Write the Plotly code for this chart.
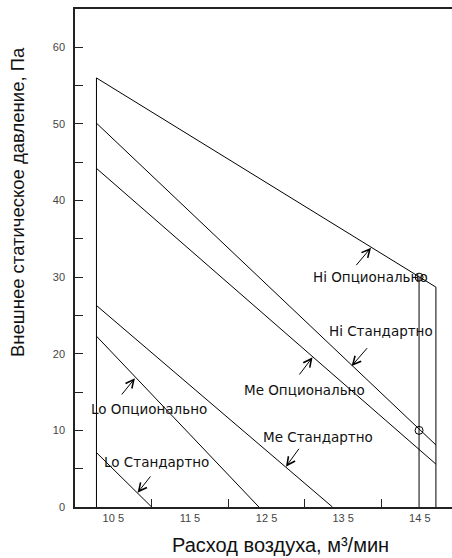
import plotly.graph_objects as go

# ---- data ----
hi_opt_x = [10.28, 14.71, 14.71]
hi_opt_y = [56.0, 28.7, 0.0]
hi_std_x = [10.28, 14.71]
hi_std_y = [50.1, 8.1]
me_opt_x = [10.28, 14.71]
me_opt_y = [44.2, 5.6]
me_std_x = [10.28, 13.36]
me_std_y = [26.3, 0.0]
lo_opt_x = [10.28, 12.40]
lo_opt_y = [22.3, 0.0]
lo_std_x = [10.28, 11.0]
lo_std_y = [7.1, 0.0]
left_edge_x = [10.28, 10.28]
left_edge_y = [0.0, 56.0]
rated_x = [14.49, 14.49]
rated_y = [0.0, 30.0]
points_x = [14.49, 14.49]
points_y = [30.0, 10.0]

labels = ["Hi Опционально", "Hi Стандартно", "Me Опционально",
          "Me Стандартно", "Lo Опционально", "Lo Стандартно"]
label_x = [13.85, 13.99, 12.99, 13.17, 10.97, 11.07]
label_y = [30.07, 23.0, 15.27, 9.18, 12.8, 5.9]
arrow_head_x = [13.863, 13.61, 13.10, 12.753, 10.782, 10.817]
arrow_head_y = [33.85, 18.41, 19.54, 5.26, 16.80, 1.87]
arrow_tail_x = [13.654, 13.83, 12.914, 12.936, 10.595, 11.0]
arrow_tail_y = [31.37, 20.93, 17.10, 7.79, 14.49, 4.18]

x_label_vals = [10.5, 11.5, 12.5, 13.5, 14.5]
x_label_text = ["10 5", "11 5", "12 5", "13 5", "14 5"]
x_minor_vals = [11, 12, 13, 14]
y_label_vals = [0, 10, 20, 30, 40, 50, 60]
y_minor_vals = [5, 15, 25, 35, 45, 55]

fig = go.Figure()
line_style = dict(color="#000000", width=1)
for xs, ys in [(hi_opt_x, hi_opt_y), (hi_std_x, hi_std_y), (me_opt_x, me_opt_y),
               (me_std_x, me_std_y), (lo_opt_x, lo_opt_y), (lo_std_x, lo_std_y),
               (left_edge_x, left_edge_y), (rated_x, rated_y)]:
    fig.add_trace(go.Scatter(x=xs, y=ys, mode="lines", line=line_style,
                             hoverinfo="skip", showlegend=False))
fig.add_trace(go.Scatter(x=points_x, y=points_y, mode="markers",
                         marker=dict(symbol="circle-open", size=8,
                                     color="#000000", line=dict(width=1)),
                         showlegend=False))

for t, lx, ly in zip(labels, label_x, label_y):
    fig.add_annotation(x=lx, y=ly, text=t, showarrow=False,
                       font=dict(family="DejaVu Sans", size=13.5, color="#111111"))
for hx, hy, tx, ty in zip(arrow_head_x, arrow_head_y, arrow_tail_x, arrow_tail_y):
    fig.add_annotation(x=hx, y=hy, ax=tx, ay=ty, axref="x", ayref="y",
                       text="", showarrow=True, arrowhead=5, arrowsize=1.6,
                       arrowwidth=1, arrowcolor="#000000")

fig.add_annotation(xref="paper", yref="paper", x=(280 - 75) / 377, y=(507 - 545) / 498,
                   xanchor="center", yanchor="middle",
                   text="Расход воздуха, м³/мин", showarrow=False,
                   font=dict(family="Liberation Sans", size=20, color="#111111"))
fig.add_annotation(xref="paper", yref="paper", x=(17 - 75) / 377, y=(507 - 202) / 498,
                   xanchor="center", yanchor="middle",
                   text="Внешнее статическое давление, Па", showarrow=False, textangle=-90,
                   font=dict(family="Liberation Sans", size=18.5, color="#111111"))

axis_font = dict(family="Liberation Sans", size=11, color="#444444")
fig.update_xaxes(range=[10.0, 14.92], tickvals=x_label_vals, ticktext=x_label_text,
                 ticks="", showgrid=False, zeroline=False, tickfont=axis_font,
                 showline=True, linecolor="#222222", linewidth=1.5, mirror=True,
                 minor=dict(tickvals=x_minor_vals, ticks="inside", ticklen=8,
                            tickcolor="#222222", tickwidth=1, showgrid=False))
fig.update_yaxes(range=[0, 65], tickvals=y_label_vals, ticks="inside", ticklen=8,
                 tickcolor="#222222", showgrid=False, zeroline=False, tickfont=axis_font,
                 ticklabelstandoff=6,
                 showline=True, linecolor="#222222", linewidth=1.5,
                 minor=dict(tickvals=y_minor_vals, ticks="inside", ticklen=8,
                            tickcolor="#222222", tickwidth=1, showgrid=False))
fig.update_layout(width=452, height=558, plot_bgcolor="white", paper_bgcolor="white",
                  margin=dict(l=75, r=0, t=9, b=51, autoexpand=False), showlegend=False)
fig.write_html("out.html", config={"displayModeBar": False},
               post_script="document.body.style.margin='0';document.body.style.overflow='hidden';")
